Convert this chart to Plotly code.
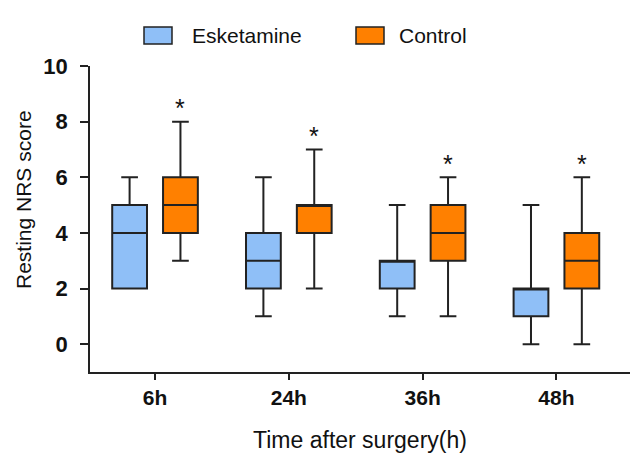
import plotly.graph_objects as go

categories = ["6h", "24h", "36h", "48h"]
esk_min = [2, 1, 1, 0]
esk_q1 = [2, 2, 2, 1]
esk_med = [4, 3, 3, 2]
esk_q3 = [5, 4, 3, 2]
esk_max = [6, 6, 5, 5]
ctl_min = [3, 2, 1, 0]
ctl_q1 = [4, 4, 3, 2]
ctl_med = [5, 5, 4, 3]
ctl_q3 = [6, 5, 5, 4]
ctl_max = [8, 7, 6, 6]
yticks = [0, 2, 4, 6, 8, 10]

idx = list(range(len(categories)))
off = 0.19
bw = 0.26
line_col = "#222222"

fig = go.Figure()
fig.add_trace(go.Box(
    x=[i - off for i in idx], q1=esk_q1, median=esk_med, q3=esk_q3,
    lowerfence=esk_min, upperfence=esk_max, width=bw, whiskerwidth=0.48,
    fillcolor="#8fbff7", line=dict(color=line_col, width=2), name="Esketamine",
    showlegend=False, hoverinfo="skip"))
fig.add_trace(go.Box(
    x=[i + off for i in idx], q1=ctl_q1, median=ctl_med, q3=ctl_q3,
    lowerfence=ctl_min, upperfence=ctl_max, width=bw, whiskerwidth=0.48,
    fillcolor="#ff8000", line=dict(color=line_col, width=2), name="Control",
    showlegend=False, hoverinfo="skip"))

for i, m in zip(idx, ctl_max):
    fig.add_annotation(x=i + off, y=m - 0.1, text="*", showarrow=False,
                       yanchor="bottom", font=dict(size=25, color="#111"))

# page has an 8px body margin; figure sized/offset to compensate
PAD = 8
legend_items = [("Esketamine", "#8fbff7", 144, 190), ("Control", "#ff8000", 356, 397)]
W, H = 638 - PAD, 453 - PAD
L, R, T, B = 90 - PAD, 8, 66 - PAD, 81
pw, ph = W - L - R, H - T - B
for name, col, rx, tx in legend_items:
    rx -= PAD
    tx -= PAD
    x0 = (rx - L) / pw
    x1 = (rx + 28 - L) / pw
    y0 = (H - B - (44 - PAD)) / ph
    y1 = (H - B - (27 - PAD)) / ph
    fig.add_shape(type="rect", xref="paper", yref="paper", x0=x0, x1=x1, y0=y0, y1=y1,
                  fillcolor=col, line=dict(color=line_col, width=1.5))
    fig.add_annotation(xref="paper", yref="paper", x=(tx - L) / pw, y=(H - B - (35.5 - PAD)) / ph,
                       text=name, showarrow=False, xanchor="left", yanchor="middle",
                       font=dict(size=21, color="#111"))

# y-axis title placed as in the reference (slightly above the plot centre)
fig.add_annotation(xref="paper", yref="paper", x=(23 - PAD - L) / pw, y=(H - B - (200 - PAD)) / ph,
                   text="Resting NRS score", textangle=-90, showarrow=False,
                   xanchor="center", yanchor="middle", font=dict(size=21, color="#111"))

fig.update_layout(
    width=W, height=H,
    margin=dict(l=L, r=R, t=T, b=B, autoexpand=False),
    plot_bgcolor="white", paper_bgcolor="white",
    font=dict(family="Liberation Sans, Arial, sans-serif", color="#111"),
    showlegend=False,
    xaxis=dict(range=[-0.486, 3.55], tickvals=idx, ticktext=categories, automargin=False,
               showgrid=False, zeroline=False, showline=True, linecolor=line_col, linewidth=1.5,
               ticks="outside", ticklen=6, tickwidth=1.5, tickcolor=line_col,
               tickfont=dict(size=21, color="#111", weight="bold"),
               title=dict(text="Time after surgery(h)", font=dict(size=23), standoff=24)),
    yaxis=dict(range=[-1, 10], tickvals=yticks, automargin=False,
               showgrid=False, zeroline=False, showline=True, linecolor=line_col, linewidth=1.5,
               ticks="outside", ticklen=8, tickwidth=1.5, tickcolor=line_col, ticklabelstandoff=8,
               tickfont=dict(size=22, color="#111", weight="bold")),
)

fig.write_html("out.html")
